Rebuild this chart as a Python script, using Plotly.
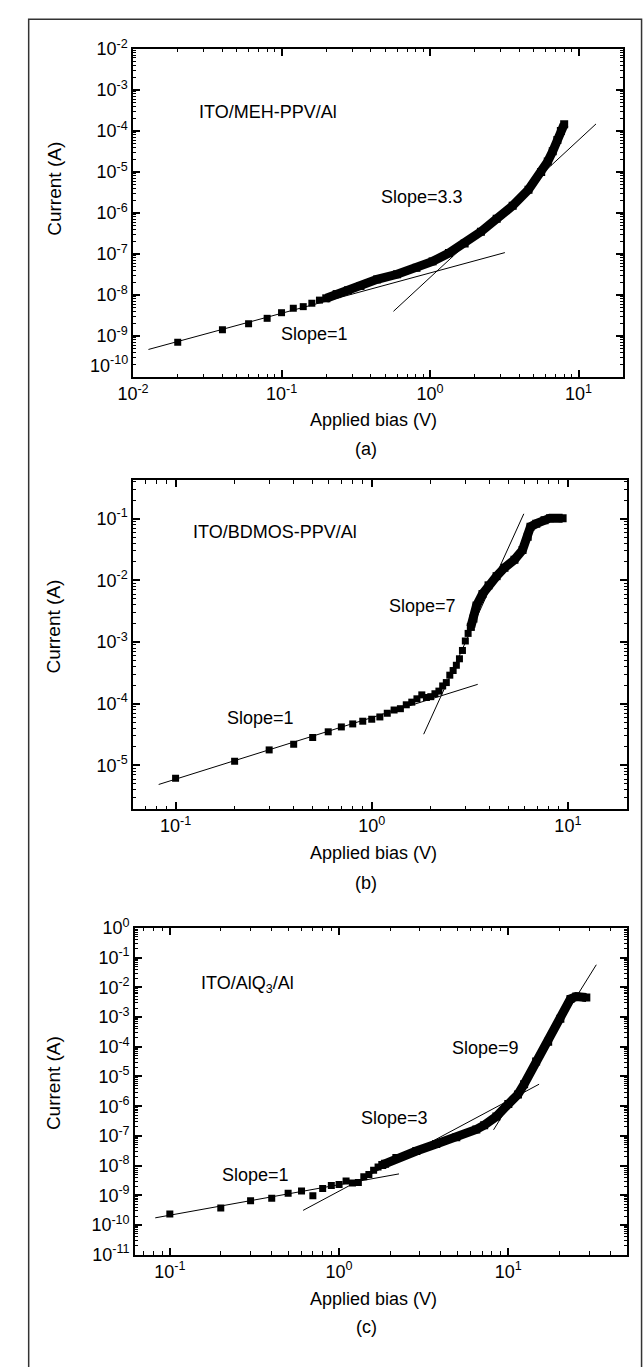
import plotly.graph_objects as go

W, H = 644, 1367
FONT = "Liberation Sans, Arial, sans-serif"

# ---------------- data ----------------
# Panel (a): ITO/MEH-PPV/Al
a_sparse_x = [0.02, 0.04, 0.06, 0.08, 0.10, 0.12, 0.14, 0.16, 0.18]
a_sparse_y = [7.0e-10, 1.43e-9, 2.0e-9, 2.7e-9, 3.7e-9, 4.75e-9, 5.2e-9, 6.3e-9, 7.5e-9]
a_dense_x = [0.20, 0.235, 0.28, 0.34, 0.44, 0.60, 0.81, 1.04, 1.34, 1.71, 2.2, 2.81, 3.6, 4.6,
             5.6, 6.2, 6.7, 7.2, 7.6, 8.0]
a_dense_y = [8.3e-9, 1.05e-8, 1.3e-8, 1.66e-8, 2.4e-8, 3.2e-8, 4.6e-8, 6.6e-8, 1.05e-7, 1.8e-7,
             3.5e-7, 7.2e-7, 1.5e-6, 3.7e-6, 1.0e-5, 1.8e-5, 3.2e-5, 6.0e-5, 1.0e-4, 1.45e-4]
a_fit1_x = [0.0127, 3.19]
a_fit1_y = [4.7e-10, 1.08e-7]
a_fit2_x = [0.567, 13.1]
a_fit2_y = [4.0e-9, 1.48e-4]

# Panel (b): ITO/BDMOS-PPV/Al
b_sparse_x = [0.1, 0.2, 0.3, 0.4, 0.5, 0.6, 0.7, 0.8, 0.9, 1.0, 1.1, 1.2, 1.3, 1.4, 1.5, 1.6,
              1.7, 1.8, 1.9, 2.0, 2.1, 2.2, 2.3, 2.4, 2.5, 2.6, 2.7, 2.8, 2.9, 3.0, 3.1, 3.2]
b_sparse_y = [6.2e-6, 1.17e-5, 1.78e-5, 2.2e-5, 2.83e-5, 3.5e-5, 4.2e-5, 4.7e-5, 5.2e-5, 5.6e-5,
              6.1e-5, 7.0e-5, 7.9e-5, 8.3e-5, 9.6e-5, 1.06e-4, 1.2e-4, 1.39e-4, 1.26e-4, 1.3e-4,
              1.45e-4, 1.6e-4, 1.94e-4, 2.2e-4, 2.9e-4, 3.45e-4, 4.2e-4, 5.35e-4, 7.3e-4, 1.04e-3,
              1.38e-3, 1.76e-3]
b_dense_x = [3.2, 3.3, 3.42, 3.67, 3.94, 4.33, 4.75, 5.34, 5.87, 6.24, 6.45, 6.9, 7.6, 8.1, 9.4]
b_dense_y = [1.76e-3, 2.4e-3, 3.9e-3, 6.0e-3, 8.3e-3, 1.17e-2, 1.6e-2, 2.16e-2, 3.1e-2, 5.1e-2,
             7.4e-2, 8.3e-2, 9.4e-2, 1.02e-1, 1.02e-1]
b_fit1_x = [0.082, 3.47]
b_fit1_y = [4.9e-6, 2.06e-4]
b_fit2_x = [1.84, 5.96]
b_fit2_y = [3.2e-5, 1.2e-1]

# Panel (c): ITO/AlQ3/Al
c_sparse_x = [0.1, 0.2, 0.3, 0.4, 0.5, 0.6, 0.7, 0.8, 0.9, 1.0, 1.1, 1.2, 1.3, 1.4, 1.5, 1.6, 1.7]
c_sparse_y = [2.36e-10, 3.7e-10, 6.6e-10, 7.9e-10, 1.17e-9, 1.4e-9, 9.6e-10, 1.7e-9, 2.15e-9,
              2.33e-9, 3.0e-9, 2.6e-9, 2.7e-9, 4.2e-9, 5.0e-9, 6.9e-9, 8.9e-9]
c_dense_x = [1.8, 1.87, 2.18, 2.86, 3.75, 4.93, 6.47, 7.2, 8.5, 10.0, 11.4, 12.4, 14.6, 17.2,
             20.3, 23.3, 25.2, 28.9]
c_dense_y = [1.05e-8, 1.15e-8, 1.8e-8, 3.1e-8, 5.3e-8, 9.0e-8, 1.65e-7, 2.3e-7, 4.5e-7,
             1.18e-6, 2.5e-6, 5.5e-6, 3.2e-5, 1.48e-4, 8.8e-4, 4.1e-3, 4.9e-3, 4.6e-3]
c_fit1_x = [0.082, 2.26]
c_fit1_y = [1.74e-10, 5.25e-9]
c_fit2_x = [0.613, 15.2]
c_fit2_y = [3.1e-10, 5.5e-6]
c_fit3_x = [8.18, 33.1]
c_fit3_y = [1.6e-7, 5.8e-2]

# tick labels
a_xticks = [0.01, 0.1, 1, 10]
a_xtext = ["10<sup>-2</sup>", "10<sup>-1</sup>", "10<sup>0</sup>", "10<sup>1</sup>"]
a_yticks = [1e-9, 1e-8, 1e-7, 1e-6, 1e-5, 1e-4, 1e-3, 1e-2]
a_ytext = ["10<sup>-9</sup>", "10<sup>-8</sup>", "10<sup>-7</sup>", "10<sup>-6</sup>",
           "10<sup>-5</sup>", "10<sup>-4</sup>", "10<sup>-3</sup>", "10<sup>-2</sup>"]
b_xticks = [0.1, 1, 10]
b_xtext = ["10<sup>-1</sup>", "10<sup>0</sup>", "10<sup>1</sup>"]
b_yticks = [1e-5, 1e-4, 1e-3, 1e-2, 1e-1]
b_ytext = ["10<sup>-5</sup>", "10<sup>-4</sup>", "10<sup>-3</sup>", "10<sup>-2</sup>", "10<sup>-1</sup>"]
c_xticks = [0.1, 1, 10]
c_xtext = ["10<sup>-1</sup>", "10<sup>0</sup>", "10<sup>1</sup>"]
c_yticks = [1e-11, 1e-10, 1e-9, 1e-8, 1e-7, 1e-6, 1e-5, 1e-4, 1e-3, 1e-2, 1e-1, 1e0]
c_ytext = ["10<sup>-11</sup>", "10<sup>-10</sup>", "10<sup>-9</sup>", "10<sup>-8</sup>",
           "10<sup>-7</sup>", "10<sup>-6</sup>", "10<sup>-5</sup>", "10<sup>-4</sup>",
           "10<sup>-3</sup>", "10<sup>-2</sup>", "10<sup>-1</sup>", "10<sup>0</sup>"]

# ---------------- figure ----------------
def px(p):
    return p / W


def py(p):
    return 1 - p / H


fig = go.Figure()

MS = 7


def add_panel(i, sx, sy, dx, dy, fits):
    xa = "x" if i == 1 else f"x{i}"
    ya = "y" if i == 1 else f"y{i}"
    for fx, fy in fits:
        fig.add_trace(go.Scatter(x=fx, y=fy, mode="lines", line=dict(color="black", width=1),
                                 xaxis=xa, yaxis=ya, hoverinfo="skip"))
    fig.add_trace(go.Scatter(x=sx, y=sy, mode="markers",
                             marker=dict(symbol="square", size=MS, color="black"),
                             xaxis=xa, yaxis=ya))
    fig.add_trace(go.Scatter(x=dx, y=dy, mode="lines+markers",
                             line=dict(color="black", width=9),
                             marker=dict(symbol="square", size=MS + 1, color="black"),
                             xaxis=xa, yaxis=ya))


add_panel(1, a_sparse_x, a_sparse_y, a_dense_x, a_dense_y, [(a_fit1_x, a_fit1_y), (a_fit2_x, a_fit2_y)])
add_panel(2, b_sparse_x, b_sparse_y, b_dense_x, b_dense_y, [(b_fit1_x, b_fit1_y), (b_fit2_x, b_fit2_y)])
add_panel(3, c_sparse_x, c_sparse_y, c_dense_x, c_dense_y,
          [(c_fit1_x, c_fit1_y), (c_fit2_x, c_fit2_y), (c_fit3_x, c_fit3_y)])


def axis(domain, rng, tv, tt, anchor):
    return dict(type="log", domain=domain, range=rng, anchor=anchor,
                tickmode="array", tickvals=tv, ticktext=tt,
                showline=True, linecolor="black", linewidth=1.5, mirror="allticks",
                ticks="inside", ticklen=7, tickwidth=1.5, tickcolor="black",
                showgrid=False, zeroline=False,
                tickfont=dict(family=FONT, size=18, color="black"),
                minor=dict(ticks="inside", ticklen=3.5, tickwidth=1, tickcolor="black",
                           showgrid=False, dtick="D1"))


fig.update_layout(
    width=W, height=H,
    margin=dict(l=0, r=0, t=0, b=0),
    paper_bgcolor="white", plot_bgcolor="white",
    showlegend=False,
    font=dict(family=FONT, size=18, color="black"),
    xaxis=axis([px(120), px(622.6)], [-2, 1.30], a_xticks, a_xtext, "y"),
    yaxis=axis([py(371), py(37.5)], [-10, -2], a_yticks, a_ytext, "x"),
    xaxis2=axis([px(120), px(626.7)], [-1.217, 1.302], b_xticks, b_xtext, "y2"),
    yaxis2=axis([py(810), py(476)], [-5.707, -0.378], b_yticks, b_ytext, "x2"),
    xaxis3=axis([px(122), px(626.7)], [-1.206, 1.702], c_xticks, c_xtext, "y3"),
    yaxis3=axis([py(1263), py(931)], [-11, 0], c_yticks, c_ytext, "x3"),
)

# outer frame
fig.add_shape(type="rect", xref="paper", yref="paper",
              x0=px(13), x1=px(641.5), y0=py(1380), y1=py(7.3),
              line=dict(color="#333333", width=1.5), fillcolor="rgba(0,0,0,0)")


def note(text, x, y, size=18, angle=0, xanchor="center"):
    fig.add_annotation(text=text, x=px(x), y=py(y), xref="paper", yref="paper",
                       showarrow=False, xanchor=xanchor, yanchor="middle", textangle=angle,
                       font=dict(family=FONT, size=size, color="black"))


# panel (a)
note("ITO/MEH-PPV/Al", 258.7, 102)
note("Slope=3.3", 416.8, 188)
note("Slope=1", 306.6, 327)
note("10<sup>-10</sup>", 117, 358, xanchor="right")
note("Applied bias (V)", 366.9, 415)
note("(a)", 359.3, 444)
note("Current (A)", 38.6, 180, size=19, angle=-90)

# panel (b)
note("ITO/BDMOS-PPV/Al", 265.3, 529)
note("Slope=7", 417, 604)
note("Slope=1", 250.5, 718)
note("Applied bias (V)", 366.9, 855)
note("(b)", 359.3, 885)
note("Current (A)", 38.6, 625, size=19, angle=-90)

# panel (c)
note("ITO/AlQ<sub>3</sub>/Al", 237, 988)
note("Slope=9", 481, 1053)
note("Slope=3", 388, 1124)
note("Slope=1", 245.6, 1182)
note("Applied bias (V)", 366.9, 1308)
note("(c)", 359.3, 1337)
note("Current (A)", 38.6, 1089, size=19, angle=-90)

fig.write_html("out.html", config={"displayModeBar": False},
               post_script="document.body.style.margin='0';document.body.style.overflow='hidden';")
